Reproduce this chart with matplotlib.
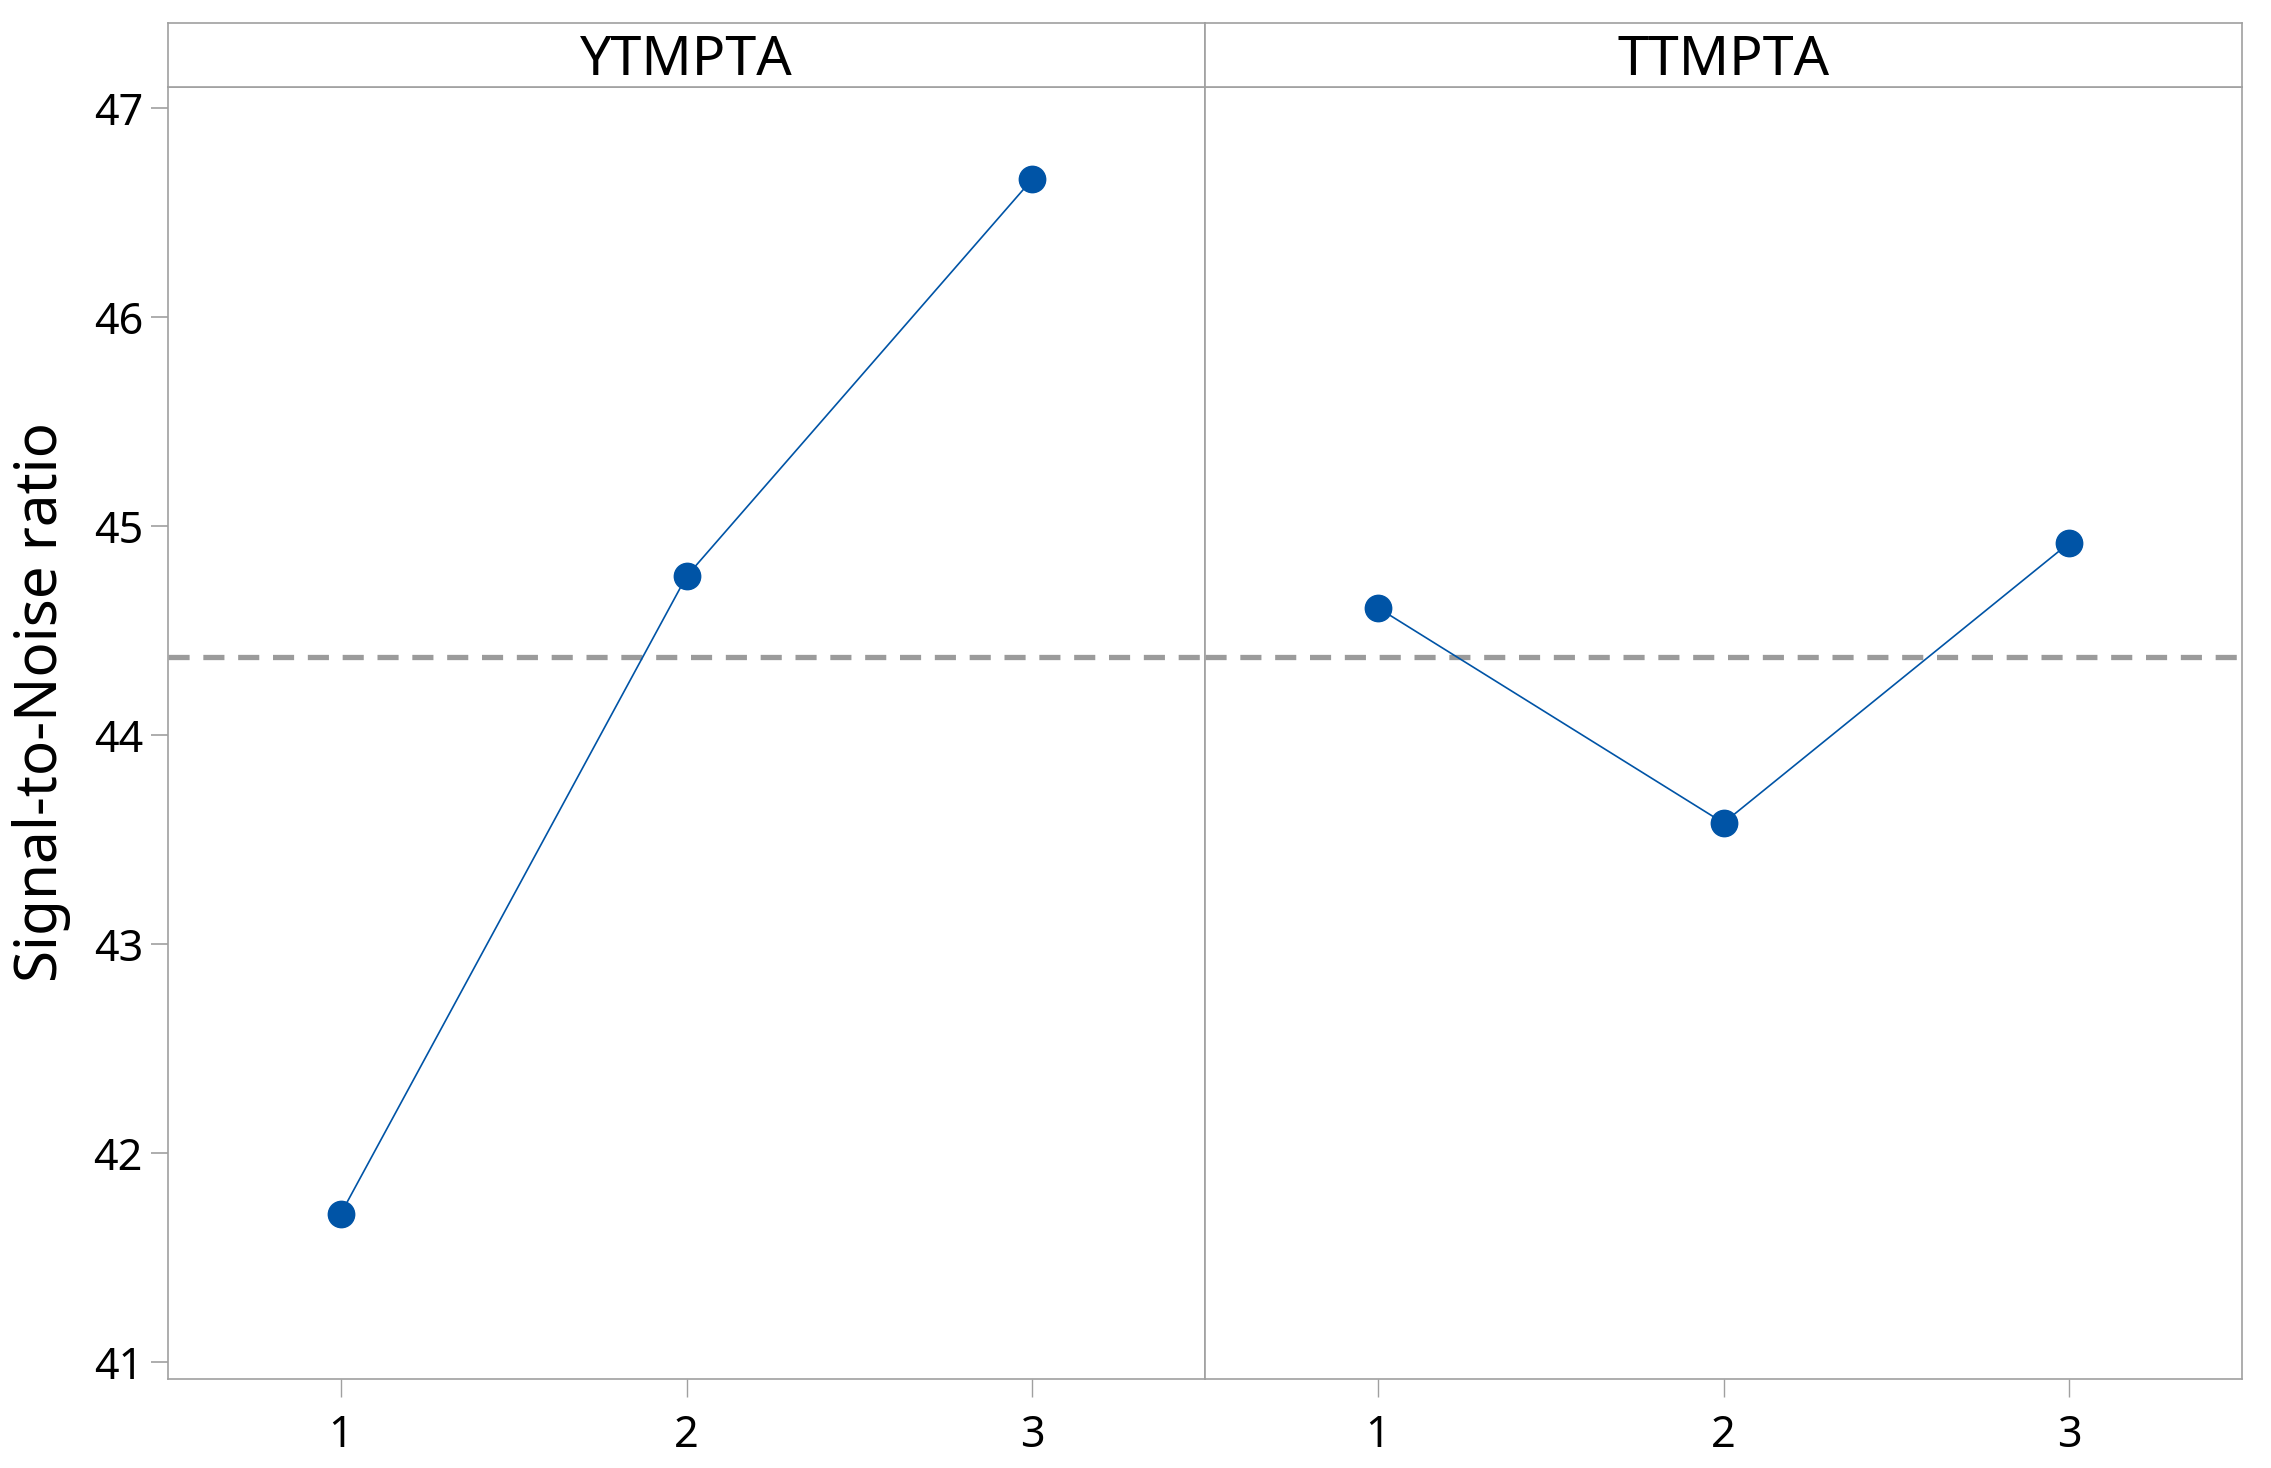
import matplotlib
matplotlib.use("Agg")
import matplotlib.pyplot as plt
import numpy as np

plt.rcParams['font.family'] = ['Noto Sans', 'DejaVu Sans']

factors = ["YTMPTA", "TTMPTA"]
levels = [1, 2, 3]
sn_ytmpta = [41.71, 44.76, 46.66]
sn_ttmpta = [44.61, 43.58, 44.92]
yticks = [41, 42, 43, 44, 45, 46, 47]
series = [sn_ytmpta, sn_ttmpta]
overall_mean = np.mean(sn_ytmpta + sn_ttmpta)

W, H = 2271, 1468
fig = plt.figure(figsize=(W / 100, H / 100), dpi=100)

def rect(x0, y0, x1, y1):
    return [x0 / W, 1 - y1 / H, (x1 - x0) / W, (y1 - y0) / H]

edge = '#A0A0A0'
blue = '#0054A6'
panels = [(168, 1205), (1205, 2242)]
ylim = (40.919, 47.102)

for i, (x0, x1) in enumerate(panels):
    ax = fig.add_axes(rect(x0, 87, x1, 1379))
    ax.plot(levels, series[i], color=blue, lw=1.2, marker='o', ms=19,
            markerfacecolor=blue, markeredgecolor=blue, zorder=3)
    ax.axhline(overall_mean, color='#9B9B9B', lw=3.8, dashes=(4, 2.6), zorder=2)
    ax.set_xlim(0.5, 3.5)
    ax.set_ylim(*ylim)
    ax.set_xticks(levels)
    ax.set_xticklabels([str(l) for l in levels])
    for s in ax.spines.values():
        s.set_color(edge)
        s.set_linewidth(1.2)
    ax.tick_params(axis='x', length=13, width=1, color=edge, labelsize=31, pad=12)
    if i == 0:
        ax.set_yticks(yticks)
        ax.tick_params(axis='y', length=12, width=1.2, color=edge, labelsize=31, pad=6)
        ax.set_ylabel("Signal-to-Noise ratio", fontsize=42)
        ax.yaxis.set_label_coords(-0.094, 0.524)
    else:
        ax.set_yticks([])
    # strip
    sax = fig.add_axes(rect(x0, 23, x1, 87))
    sax.set_xticks([])
    sax.set_yticks([])
    for s in sax.spines.values():
        s.set_color(edge)
        s.set_linewidth(1.2)
    sax.text(0.5, 0.42, factors[i], ha='center', va='center', fontsize=40,
             transform=sax.transAxes)

fig.savefig("out.png", dpi=100)
